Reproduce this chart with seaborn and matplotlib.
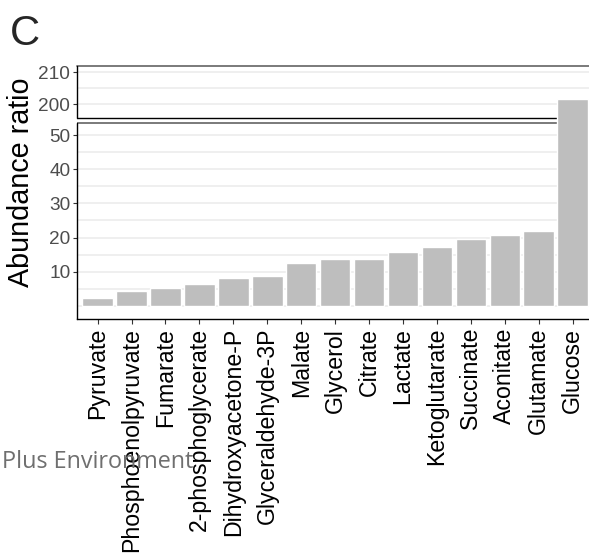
import numpy as np
import pandas as pd
import matplotlib
matplotlib.use("Agg")
import matplotlib.pyplot as plt
import matplotlib.transforms as mtransforms
import seaborn as sns

# Abundance ratio per metabolite
metabolites = ["Pyruvate", "Phosphoenolpyruvate", "Fumarate", "2-phosphoglycerate",
               "Dihydroxyacetone-P", "Glyceraldehyde-3P", "Malate", "Glycerol",
               "Citrate", "Lactate", "Ketoglutarate", "Succinate", "Aconitate",
               "Glutamate", "Glucose"]
ratios = [2.2, 4.2, 5.1, 6.5, 8.0, 8.6, 12.6, 13.8, 13.8, 15.8, 17.1, 19.6,
          20.8, 21.9, 201.8]

low_ticks = [10, 20, 30, 40, 50]
high_ticks = [200, 210]
minor_ticks = [0, 5, 15, 25, 35, 45, 205]

# broken y axis: lower and upper segments
LOW = (-3.8, 53.7)
HIGH = (195.8, 212.1)
S_LOW, S_HIGH, GAP = 3.42, 3.2, 4.8


def forward(y):
    y = np.asarray(y, dtype=float)
    p1 = (LOW[1] - LOW[0]) * S_LOW
    return np.where(y <= LOW[1], (y - LOW[0]) * S_LOW,
                    np.where(y < HIGH[0],
                             p1 + (y - LOW[1]) / (HIGH[0] - LOW[1]) * GAP,
                             p1 + GAP + (y - HIGH[0]) * S_HIGH))


def inverse(p):
    p = np.asarray(p, dtype=float)
    p1 = (LOW[1] - LOW[0]) * S_LOW
    return np.where(p <= p1, p / S_LOW + LOW[0],
                    np.where(p < p1 + GAP,
                             LOW[1] + (p - p1) / GAP * (HIGH[0] - LOW[1]),
                             HIGH[0] + (p - p1 - GAP) / S_HIGH))


sns.set_style("white")
plt.rcParams["font.family"] = ["Liberation Sans", "DejaVu Sans"]

df = pd.DataFrame({"metabolite": metabolites, "ratio": ratios})

fig = plt.figure(figsize=(5.89, 5.57), dpi=100)
ax = fig.add_axes([0.1312, 0.4277, 0.8756, 0.4544])
ax.set_yscale("function", functions=(forward, inverse))

sns.barplot(data=df, x="metabolite", y="ratio", order=metabolites,
            color="#bebebe", saturation=1, width=0.9, ax=ax, zorder=2)

ax.set_xlim(-0.6, len(metabolites) - 0.4)
ax.set_ylim(LOW[0], HIGH[1])

ax.set_yticks(low_ticks + high_ticks)
ax.set_yticks(minor_ticks, minor=True)
ax.set_yticklabels([str(t) for t in low_ticks + high_ticks])
ax.set_axisbelow(True)
ax.yaxis.grid(True, which="both", color="#ebebeb", linewidth=1.1)
ax.xaxis.grid(False)

for side in ["left", "right", "top"]:
    ax.spines[side].set_visible(False)
ax.spines["bottom"].set_color("black")
ax.spines["bottom"].set_linewidth(1.0)

# frame pieces of the two segments
blend = mtransforms.blended_transform_factory(ax.transAxes, ax.transData)
for seg in (LOW, HIGH):
    ax.plot([0, 0], [seg[0], seg[1]], transform=blend, color="black",
            linewidth=1.0, clip_on=False, zorder=3)
ax.axhline(HIGH[0], color="black", linewidth=1.0, zorder=1.5)
ax.axhline(HIGH[1], color="#7a7a7a", linewidth=1.4, zorder=1.5, clip_on=False)
ax.axhline(LOW[1], color="#7a7a7a", linewidth=1.4, zorder=1.5)

ax.tick_params(axis="y", which="major", left=True, length=3, width=0.8,
               color="#333333", labelsize=13.7, labelcolor="#4d4d4d", pad=2)
ax.tick_params(axis="y", which="minor", left=False, length=0)
ax.tick_params(axis="x", bottom=True, length=3.5, width=0.8, color="#333333",
               labelsize=16.7, labelcolor="black", pad=3, labelrotation=90)

ax.set_xlabel("")
ax.set_ylabel("Abundance ratio", fontsize=20.7, color="black")
ax.yaxis.label.set(rotation_mode="default", va="center", ha="center")
ax.yaxis.set_label_coords(-0.109, 0.54)

fig.text(10 / 589, 1 - 45 / 557, "C", fontsize=30, va="baseline", ha="left")
fig.text(2 / 589, 1 - 468 / 557, "Plus Environment", fontsize=16.8,
         family=["Open Sans", "DejaVu Sans"], color="#6f6f6f",
         va="baseline", ha="left")

fig.savefig("out.png", dpi=100)
